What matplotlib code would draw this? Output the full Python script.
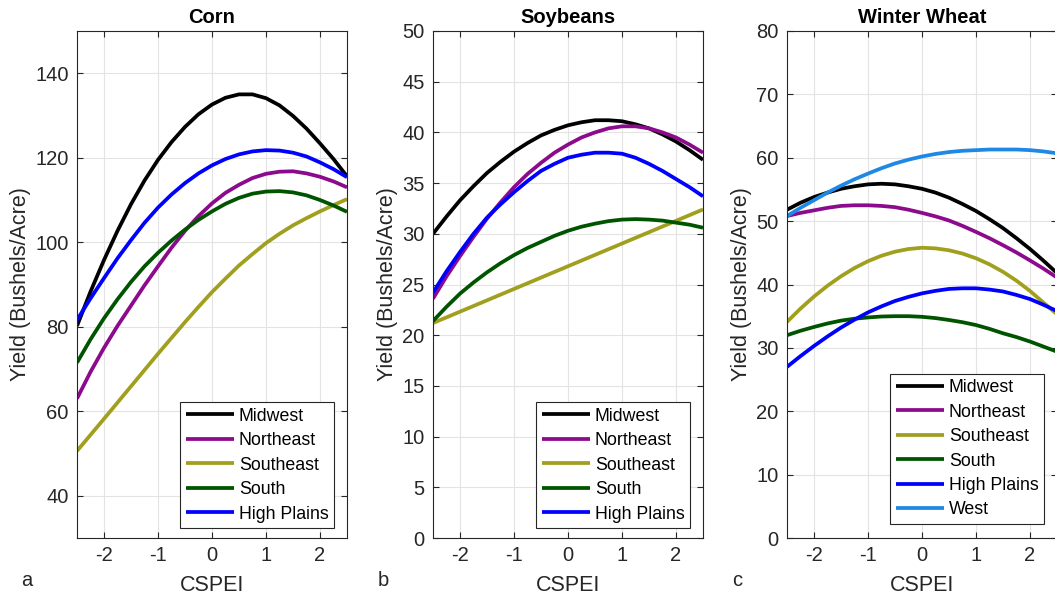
import numpy as np
import matplotlib
matplotlib.use("Agg")
import matplotlib.pyplot as plt

plt.rcParams['font.family'] = ['Liberation Sans', 'DejaVu Sans']
plt.rcParams['axes.unicode_minus'] = False

cspei = [-2.5, -2.25, -2.0, -1.75, -1.5, -1.25, -1.0, -0.75, -0.5, -0.25, 0.0,
         0.25, 0.5, 0.75, 1.0, 1.25, 1.5, 1.75, 2.0, 2.25, 2.5]

# Corn
corn_midwest = [80.2, 88.3, 95.8, 102.7, 109.0, 114.6, 119.5, 123.7, 127.3, 130.3, 132.6,
                134.2, 135.0, 135.0, 134.1, 132.4, 129.9, 126.9, 123.4, 119.7, 115.6]
corn_northeast = [63.0, 69.3, 75.0, 80.2, 85.0, 89.8, 94.3, 98.7, 102.7, 106.2, 109.2,
                  111.7, 113.6, 115.2, 116.2, 116.7, 116.8, 116.3, 115.5, 114.4, 113.0]
corn_southeast = [50.6, 54.4, 58.2, 62.05, 65.9, 69.75, 73.6, 77.35, 81.1, 84.7, 88.2,
                  91.4, 94.5, 97.2, 99.8, 102.0, 104.0, 105.7, 107.3, 108.8, 110.2]
corn_south = [71.5, 77.0, 82.0, 86.5, 90.6, 94.3, 97.5, 100.4, 103.0, 105.3, 107.3,
              109.1, 110.5, 111.5, 112.0, 112.1, 111.8, 111.1, 110.0, 108.7, 107.2]
corn_highplains = [81.6, 86.7, 91.5, 96.2, 100.5, 104.6, 108.2, 111.3, 114.0, 116.3, 118.2,
                   119.7, 120.8, 121.5, 121.8, 121.7, 121.2, 120.3, 118.9, 117.3, 115.4]

# Soybeans
soy_midwest = [30.0, 31.7, 33.3, 34.7, 36.0, 37.1, 38.1, 38.95, 39.7, 40.25, 40.7,
               41.0, 41.2, 41.2, 41.1, 40.8, 40.4, 39.8, 39.1, 38.25, 37.3]
soy_northeast = [23.6, 25.8, 27.8, 29.7, 31.5, 33.1, 34.6, 35.9, 37.0, 38.0, 38.8,
                 39.5, 40.0, 40.4, 40.6, 40.6, 40.4, 40.0, 39.5, 38.8, 38.0]
soy_southeast = [21.2, 21.76, 22.32, 22.88, 23.44, 24.0, 24.56, 25.12, 25.68, 26.24, 26.8,
                 27.36, 27.92, 28.48, 29.04, 29.6, 30.16, 30.72, 31.28, 31.84, 32.4]
soy_south = [21.4, 22.8, 24.1, 25.2, 26.2, 27.1, 27.9, 28.6, 29.2, 29.8, 30.3,
             30.7, 31.0, 31.25, 31.4, 31.45, 31.4, 31.3, 31.1, 30.9, 30.6]
soy_highplains = [24.2, 26.3, 28.2, 30.0, 31.6, 32.9, 34.1, 35.2, 36.2, 36.9, 37.5,
                  37.8, 38.0, 38.0, 37.9, 37.5, 36.9, 36.2, 35.4, 34.6, 33.7]

# Winter wheat
wheat_midwest = [51.8, 52.9, 53.8, 54.5, 55.1, 55.5, 55.8, 55.9, 55.8, 55.5, 55.1,
                 54.5, 53.7, 52.7, 51.6, 50.3, 48.9, 47.3, 45.6, 43.75, 41.8]
wheat_northeast = [50.8, 51.3, 51.7, 52.1, 52.4, 52.5, 52.5, 52.4, 52.2, 51.8, 51.3,
                   50.75, 50.1, 49.25, 48.3, 47.3, 46.2, 45.05, 43.8, 42.5, 41.1]
wheat_southeast = [34.1, 36.2, 38.1, 39.8, 41.3, 42.6, 43.68, 44.54, 45.18, 45.6, 45.8,
                   45.7, 45.4, 44.88, 44.14, 43.18, 42.0, 40.6, 38.98, 37.14, 35.3]
wheat_south = [32.0, 32.7, 33.3, 33.85, 34.3, 34.6, 34.8, 34.95, 35.0, 35.0, 34.9,
               34.7, 34.4, 34.05, 33.6, 33.0, 32.3, 31.7, 31.0, 30.2, 29.4]
wheat_highplains = [27.0, 28.7, 30.3, 31.8, 33.2, 34.45, 35.6, 36.55, 37.4, 38.05, 38.6,
                    39.0, 39.3, 39.4, 39.4, 39.2, 38.9, 38.35, 37.7, 36.8, 35.8]
wheat_west = [50.8, 52.1, 53.3, 54.5, 55.6, 56.6, 57.5, 58.35, 59.1, 59.7, 60.2,
              60.6, 60.9, 61.1, 61.2, 61.3, 61.3, 61.3, 61.2, 61.0, 60.7]

regions = ['Midwest', 'Northeast', 'Southeast', 'South', 'High Plains', 'West']
colors = ['black', '#8c0a8c', '#a0a01e', '#005400', '#0000ff', '#1e88e5']

panels = [
    ('Corn', [corn_midwest, corn_northeast, corn_southeast, corn_south, corn_highplains],
     (30, 150), range(40, 141, 20), 'a', 0.02),
    ('Soybeans', [soy_midwest, soy_northeast, soy_southeast, soy_south, soy_highplains],
     (0, 50), range(0, 51, 5), 'b', 0.02),
    ('Winter Wheat', [wheat_midwest, wheat_northeast, wheat_southeast, wheat_south,
                      wheat_highplains, wheat_west],
     (0, 80), range(0, 81, 10), 'c', 0.028),
]

fig = plt.figure(figsize=(10.55, 6.01), dpi=100)
lefts = [77, 433, 787]
W, H = 1055, 601

for left, (title, series, ylim, yticks, letter, legy) in zip(lefts, panels):
    ax = fig.add_axes([left / W, (H - 538) / H, 270 / W, 507 / H])
    for name, col, vals in zip(regions, colors, series):
        ax.plot(cspei, vals, color=col, lw=2.7, label=name, solid_capstyle='butt')
    ax.set_xlim(-2.5, 2.5)
    ax.set_ylim(*ylim)
    ax.set_xticks([-2, -1, 0, 1, 2])
    ax.set_yticks(list(yticks))
    ax.grid(True, color='#e3e3e3', lw=0.8)
    ax.set_axisbelow(True)
    ax.tick_params(direction='in', top=True, right=True, labelsize=14.5,
                   colors='#262626', length=4, pad=6)
    for sp in ax.spines.values():
        sp.set_color('#262626')
        sp.set_linewidth(0.8)
    ax.set_title(title, fontsize=14.5, fontweight='bold', pad=6)
    ax.set_xlabel('CSPEI', fontsize=15.5, color='#262626', labelpad=7)
    ax.set_ylabel('Yield (Bushels/Acre)', fontsize=15.5, color='#262626', labelpad=3)
    leg = ax.legend(loc='lower right', bbox_to_anchor=(0.952, legy), borderaxespad=0,
                    fontsize=12.8, handlelength=2.7, handletextpad=0.3, labelspacing=0.42,
                    fancybox=False, framealpha=1, edgecolor='#262626', borderpad=0.3)
    leg.get_frame().set_linewidth(0.8)
    fig.text((left - 50) / W, (H - 581) / H, letter, fontsize=14.5, color='#262626',
             ha='center', va='center')

fig.savefig('out.png', dpi=100)
